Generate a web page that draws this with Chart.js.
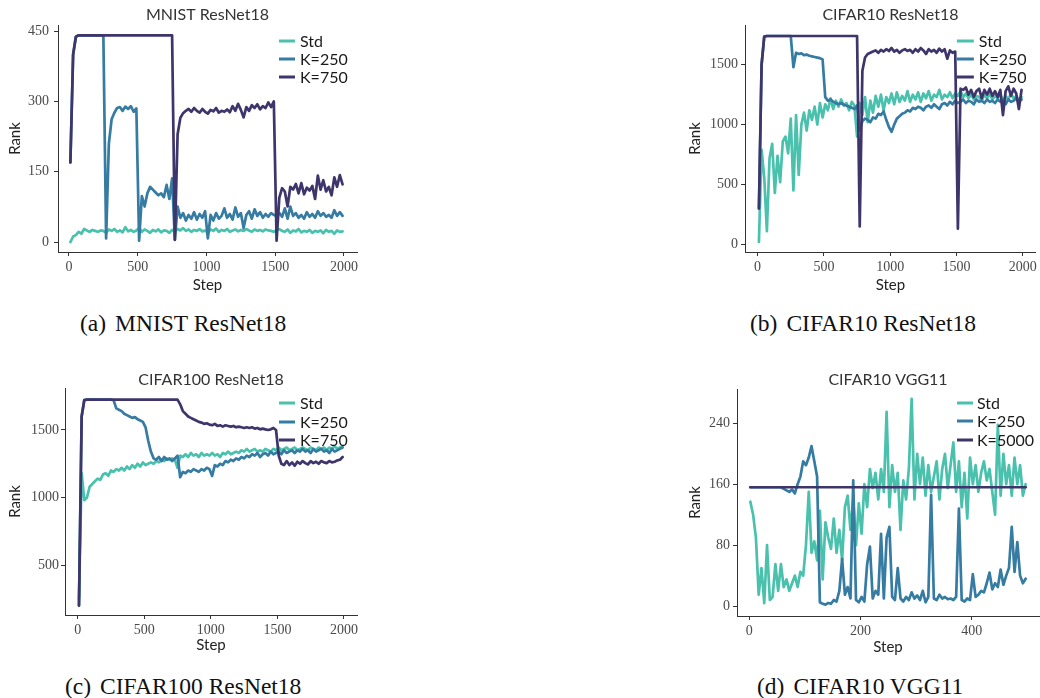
<!DOCTYPE html>
<html>
<head>
<meta charset="utf-8">
<script src="https://cdn.jsdelivr.net/npm/chart.js@4.4.1/dist/chart.umd.min.js"></script>
<style>
  body { margin: 0; background: #fff; width: 1040px; height: 698px; position: relative; overflow: hidden; }
  canvas { position: absolute; }
  .cap { position: absolute; font-family: "Liberation Serif", "Times New Roman", serif; font-size: 23.5px; line-height: 22px; color: #111; white-space: nowrap; }
  .cap span { margin-right: 9px; }
</style>
</head>
<body>
<canvas id="panelA" width="370" height="300" style="left:0;top:0"></canvas>
<canvas id="panelB" width="360" height="300" style="left:680px;top:0"></canvas>
<canvas id="panelC" width="370" height="300" style="left:0;top:360px"></canvas>
<canvas id="panelD" width="360" height="300" style="left:680px;top:360px"></canvas>

<div class="cap" style="left:80px;top:312px"><span>(a)</span>MNIST ResNet18</div>
<div class="cap" style="left:750px;top:312px"><span>(b)</span>CIFAR10 ResNet18</div>
<div class="cap" style="left:65px;top:675px"><span>(c)</span>CIFAR100 ResNet18</div>
<div class="cap" style="left:757px;top:675px"><span>(d)</span>CIFAR10 VGG11</div>

<script>
// ---- data ----
const resnetSteps = [
  10,30,50,70,90,110,130,150,170,190,
  210,230,250,270,290,310,330,350,370,390,
  410,430,450,470,490,510,530,550,570,590,
  610,630,650,670,690,710,730,750,770,790,
  810,830,850,870,890,910,930,950,970,990,
  1010,1030,1050,1070,1090,1110,1130,1150,1170,1190,
  1210,1230,1250,1270,1290,1310,1330,1350,1370,1390,
  1410,1430,1450,1470,1490,1510,1530,1550,1570,1590,
  1610,1630,1650,1670,1690,1710,1730,1750,1770,1790,
  1810,1830,1850,1870,1890,1910,1930,1950,1970,1990
];
const vggSteps = [
  2,7,12,17,22,27,32,37,42,47,
  52,57,62,67,72,77,82,87,92,97,
  102,107,112,117,122,127,132,137,142,147,
  152,157,162,167,172,177,182,187,192,197,
  202,207,212,217,222,227,232,237,242,247,
  252,257,262,267,272,277,282,287,292,297,
  302,307,312,317,322,327,332,337,342,347,
  352,357,362,367,372,377,382,387,392,397,
  402,407,412,417,422,427,432,437,442,447,
  452,457,462,467,472,477,482,487,492,497
];
const vggK5000Steps = [2, 497];

const resnetStepTicks = [0, 500, 1000, 1500, 2000];
const vggStepTicks = [0, 200, 400];
const mnistRankTicks = [0, 150, 300, 450];
const cifar10RankTicks = [0, 500, 1000, 1500];
const cifar100RankTicks = [500, 1000, 1500];
const vggRankTicks = [0, 80, 160, 240];

const mnistStd = [
  0,12,15,22,18,28,25,22,26,24,
  22,25,24,20,27,24,28,22,25,21,
  32,23,26,22,25,30,22,27,24,20,
  26,23,27,21,25,24,20,26,22,28,
  25,30,24,27,22,26,24,28,23,25,
  20,27,24,29,22,26,24,28,22,25,
  27,23,26,24,28,25,22,27,24,26,
  23,27,25,24,22,26,28,24,22,27,
  20,25,23,28,21,24,22,26,20,24,
  22,25,19,26,22,24,18,25,22,23
];
const mnistK250 = [
  170,400,438,441,441,441,441,441,441,441,
  441,441,441,8,210,262,276,286,288,280,
  289,284,290,278,285,3,98,76,104,118,
  112,106,100,104,96,122,92,136,5,76,
  52,62,46,58,50,64,48,60,52,66,
  8,58,46,62,50,56,72,52,60,48,
  74,54,62,30,58,66,50,70,56,64,
  52,60,54,62,58,56,62,54,72,50,
  76,56,62,52,58,50,64,54,60,52,
  66,56,62,54,58,52,68,56,64,56
];
const mnistK750 = [
  170,400,438,441,441,441,441,441,441,441,
  441,441,441,441,441,441,441,441,441,441,
  441,441,441,441,441,441,441,441,441,441,
  441,441,441,441,441,441,441,441,5,230,
  265,275,280,284,278,286,280,276,284,278,
  274,282,279,286,276,280,278,283,277,290,
  280,295,282,266,288,280,292,286,294,283,
  290,286,298,288,300,3,95,115,108,76,
  118,112,124,104,126,102,116,110,120,92,
  142,112,132,108,118,100,138,118,143,123
];

const cifar10Std = [
  20,790,560,110,720,840,430,740,520,860,
  900,760,1050,450,1080,580,1000,1100,950,1120,
  1040,1150,1000,1180,1060,1170,1120,1220,1130,1200,
  1150,1210,1160,1180,1120,1190,1160,900,1180,1080,
  1230,1020,1200,1100,1240,1150,1250,1120,1230,1180,
  1260,1170,1270,1190,1240,1200,1280,1190,1250,1210,
  1270,1190,1260,1220,1280,1200,1250,1230,1290,1210,
  1250,1230,1270,1220,1260,1240,1280,1230,1260,1220,
  1250,1210,1240,1230,1200,1250,1220,1260,1210,1240,
  1220,1250,1200,1240,1210,1260,1220,1240,1200,1230
];
const cifar10K250 = [
  300,1500,1735,1740,1740,1740,1740,1740,1740,1740,
  1740,1740,1740,1480,1600,1590,1595,1580,1585,1575,
  1570,1565,1560,1555,1545,1230,1200,1210,1190,1180,
  1170,1180,1165,1160,1150,1140,1130,1160,950,1030,
  1050,1040,1020,1060,1050,1090,1080,1110,1040,980,
  940,1000,1050,1070,1090,1100,1120,1110,1140,1130,
  1150,1140,1120,1150,1160,1140,1170,1150,1130,1170,
  1180,1160,1190,1170,1200,1180,1190,1210,1180,1200,
  1190,1170,1210,1190,1200,1180,1210,1190,1200,1180,
  1210,1190,1200,1170,1210,1190,1200,1220,1190,1210
];
const cifar10K750 = [
  300,1500,1735,1740,1740,1740,1740,1740,1740,1740,
  1740,1740,1740,1740,1740,1740,1740,1740,1740,1740,
  1740,1740,1740,1740,1740,1740,1740,1740,1740,1740,
  1740,1740,1740,1740,1740,1740,1740,1740,150,1450,
  1560,1590,1600,1610,1620,1600,1625,1610,1630,1615,
  1640,1610,1625,1600,1620,1630,1615,1625,1600,1630,
  1610,1640,1620,1590,1630,1610,1625,1600,1635,1610,
  1630,1550,1620,1600,1610,130,1300,1290,1310,1250,
  1290,1230,1280,1300,1220,1290,1250,1300,1240,1280,
  1230,1290,1080,1280,1320,1240,1300,1260,1130,1290
];

const cifar100Std = [
  250,1180,980,1000,1080,1100,1120,1140,1130,1170,
  1180,1160,1200,1190,1210,1200,1220,1200,1230,1210,
  1240,1220,1250,1230,1260,1240,1250,1260,1250,1270,
  1260,1280,1270,1290,1280,1290,1280,1220,1310,1300,
  1320,1300,1330,1310,1320,1300,1330,1310,1320,1310,
  1330,1310,1320,1300,1330,1320,1340,1320,1330,1340,
  1330,1350,1340,1360,1340,1350,1360,1340,1350,1340,
  1360,1350,1340,1360,1350,1370,1350,1360,1370,1350,
  1360,1370,1350,1360,1370,1360,1350,1370,1360,1350,
  1370,1360,1370,1350,1370,1360,1380,1360,1370,1380
];
const cifar100K250 = [
  200,1600,1722,1725,1725,1725,1725,1725,1725,1725,
  1725,1725,1725,1720,1660,1650,1640,1620,1610,1600,
  1590,1595,1580,1570,1560,1520,1420,1340,1290,1280,
  1300,1270,1300,1280,1290,1270,1290,1310,1150,1190,
  1180,1200,1190,1210,1200,1190,1210,1200,1220,1210,
  1160,1240,1230,1250,1240,1270,1260,1280,1270,1290,
  1280,1300,1290,1310,1300,1320,1310,1330,1300,1320,
  1330,1310,1340,1320,1330,1340,1320,1350,1330,1340,
  1350,1330,1350,1340,1360,1340,1350,1330,1360,1340,
  1350,1360,1340,1350,1330,1360,1340,1350,1360,1370
];
const cifar100K750 = [
  200,1600,1722,1725,1725,1725,1725,1725,1725,1725,
  1725,1725,1725,1725,1725,1725,1725,1725,1725,1725,
  1725,1725,1725,1725,1725,1725,1725,1725,1725,1725,
  1725,1725,1725,1725,1725,1725,1725,1725,1690,1640,
  1620,1600,1590,1580,1570,1560,1555,1545,1550,1540,
  1535,1545,1530,1535,1525,1535,1530,1525,1530,1520,
  1525,1520,1515,1520,1515,1520,1510,1515,1505,1510,
  1505,1500,1505,1515,1500,1310,1250,1240,1270,1240,
  1260,1235,1265,1250,1270,1255,1245,1270,1255,1265,
  1250,1270,1260,1255,1270,1260,1265,1275,1280,1300
];

const vggStd = [
  137,120,90,15,50,4,80,8,12,55,
  20,55,25,35,20,30,40,25,45,40,
  80,150,70,85,60,125,35,110,90,75,
  115,70,100,60,130,145,100,140,80,135,
  95,160,130,180,155,175,140,180,150,255,
  130,185,150,175,100,165,140,180,272,140,
  200,160,195,145,185,150,170,190,140,180,
  200,155,185,215,150,190,130,175,115,195,
  160,185,150,175,190,165,180,150,120,238,
  145,200,160,185,145,195,160,185,145,160
];
const vggK250 = [
  156,156,156,156,156,156,156,156,156,156,
  156,156,154,152,150,153,148,160,170,190,
  185,195,210,190,170,5,3,2,4,3,
  8,6,20,62,15,25,10,165,8,5,
  12,6,55,78,10,20,15,95,10,90,
  104,12,8,50,10,6,12,8,18,10,
  14,8,20,5,12,146,10,8,15,10,
  12,9,10,8,12,128,8,6,10,8,
  42,12,15,20,18,30,44,22,30,25,
  48,28,40,50,104,45,84,40,30,36
];
const vggK5000 = [156, 156];

// ---- drawing ----
const palette = ['#49C1AD', '#357BA2', '#3E356B'];
const sansFont = 'Lato, "Open Sans", sans-serif';
const tickFont = { family: '"Liberation Serif", serif', size: 14 };

function pts(steps, vals) {
  return steps.map((s, i) => ({ x: s, y: vals[i] }));
}

// titles, axis labels and legend
const panelText = {
  id: 'panelText',
  afterDraw(chart, args, o) {
    const ctx = chart.ctx;
    const a = chart.chartArea;
    const cx = (a.left + a.right) / 2;
    ctx.save();
    ctx.textBaseline = 'middle';
    ctx.textAlign = 'center';
    ctx.fillStyle = '#333';
    ctx.font = '16px ' + sansFont;
    ctx.fillText(o.title, cx, o.titleY);
    ctx.fillStyle = '#222';
    ctx.font = '15px ' + sansFont;
    ctx.fillText('Step', cx, o.stepY);
    ctx.translate(o.rankX, (a.top + a.bottom) / 2);
    ctx.rotate(-Math.PI / 2);
    ctx.fillText('Rank', 0, 0);
    ctx.restore();

    ctx.save();
    ctx.font = '16px ' + sansFont;
    ctx.textBaseline = 'middle';
    ctx.textAlign = 'left';
    chart.data.datasets.forEach((ds, i) => {
      const y = a.top + o.legRows[i];
      ctx.strokeStyle = ds.borderColor;
      ctx.lineWidth = 3;
      ctx.beginPath();
      ctx.moveTo(a.right + o.legX0, y);
      ctx.lineTo(a.right + o.legX1, y);
      ctx.stroke();
      ctx.fillStyle = '#1a1a1a';
      ctx.fillText(ds.label, a.right + o.legText, y + 1);
    });
    ctx.restore();
  }
};

function makePanel(id, p) {
  new Chart(document.getElementById(id), {
    type: 'line',
    data: {
      datasets: p.series.map((s, i) => ({
        label: s.label,
        data: pts(s.steps, s.values),
        borderColor: palette[i],
        backgroundColor: palette[i],
        order: 3 - i
      }))
    },
    options: {
      responsive: false,
      animation: false,
      devicePixelRatio: 1,
      layout: { padding: { top: p.padTop, right: p.padRight, left: 0, bottom: 0 } },
      elements: {
        point: { radius: 0 },
        line: { borderWidth: 2.7, tension: 0, borderJoinStyle: 'round', borderCapStyle: 'round' }
      },
      plugins: {
        legend: { display: false },
        tooltip: { enabled: false },
        panelText: p.text
      },
      scales: {
        x: {
          type: 'linear', min: p.xMin, max: p.xMax,
          afterBuildTicks: s => { s.ticks = p.xTicks.map(v => ({ value: v })); },
          afterFit: s => { s.height = p.xAxisH; },
          grid: { drawOnChartArea: false, drawTicks: true, tickLength: 4, color: '#333' },
          border: { color: '#333', width: 1 },
          ticks: { padding: 3, font: tickFont, color: '#4a4a4a', maxRotation: 0, autoSkip: false, callback: v => String(v) }
        },
        y: {
          type: 'linear', min: p.yMin, max: p.yMax,
          afterBuildTicks: s => { s.ticks = p.yTicks.map(v => ({ value: v })); },
          afterFit: s => { s.width = p.yAxisW; },
          grid: { drawOnChartArea: false, drawTicks: true, tickLength: 4, color: '#333' },
          border: { color: '#333', width: 1 },
          ticks: { padding: p.yPad, font: tickFont, color: '#4a4a4a', autoSkip: false, callback: v => String(v) }
        }
      }
    },
    plugins: [panelText]
  });
}

makePanel('panelA', {
  series: [
    { label: 'Std', steps: resnetSteps, values: mnistStd },
    { label: 'K=250', steps: resnetSteps, values: mnistK250 },
    { label: 'K=750', steps: resnetSteps, values: mnistK750 }
  ],
  xMin: -80, xMax: 2095, yMin: -21, yMax: 463,
  xTicks: resnetStepTicks, yTicks: mnistRankTicks,
  padTop: 25, padRight: 13, yAxisW: 58, xAxisH: 48, yPad: 5,
  text: { title: 'MNIST ResNet18', titleY: 15, stepY: 285, rankX: 15,
          legX0: -78, legX1: -62, legText: -57, legRows: [16, 34, 52] }
});

makePanel('panelB', {
  series: [
    { label: 'Std', steps: resnetSteps, values: cifar10Std },
    { label: 'K=250', steps: resnetSteps, values: cifar10K250 },
    { label: 'K=750', steps: resnetSteps, values: cifar10K750 }
  ],
  xMin: -95, xMax: 2098, yMin: -64, yMax: 1832,
  xTicks: resnetStepTicks, yTicks: cifar10RankTicks,
  padTop: 25, padRight: 3, yAxisW: 65, xAxisH: 48, yPad: 3,
  text: { title: 'CIFAR10 ResNet18', titleY: 15, stepY: 285, rankX: 15,
          legX0: -79, legX1: -62, legText: -57, legRows: [16, 34, 52] }
});

makePanel('panelC', {
  series: [
    { label: 'Std', steps: resnetSteps, values: cifar100Std },
    { label: 'K=250', steps: resnetSteps, values: cifar100K250 },
    { label: 'K=750', steps: resnetSteps, values: cifar100K750 }
  ],
  xMin: -95, xMax: 2098, yMin: 130, yMax: 1811,
  xTicks: resnetStepTicks, yTicks: cifar100RankTicks,
  padTop: 28, padRight: 13, yAxisW: 65, xAxisH: 45, yPad: 2,
  text: { title: 'CIFAR100 ResNet18', titleY: 20, stepY: 285, rankX: 15,
          legX0: -78, legX1: -62, legText: -57, legRows: [15, 34, 52] }
});

makePanel('panelD', {
  series: [
    { label: 'Std', steps: vggSteps, values: vggStd },
    { label: 'K=250', steps: vggSteps, values: vggK250 },
    { label: 'K=5000', steps: vggK5000Steps, values: vggK5000 }
  ],
  xMin: -22, xMax: 521, yMin: -13, yMax: 285,
  xTicks: vggStepTicks, yTicks: vggRankTicks,
  padTop: 29, padRight: 1, yAxisW: 57, xAxisH: 44, yPad: 3,
  text: { title: 'CIFAR10 VGG11', titleY: 20, stepY: 287, rankX: 15,
          legX0: -82, legX1: -66, legText: -62, legRows: [14, 32, 51] }
});
</script>
</body>
</html>
